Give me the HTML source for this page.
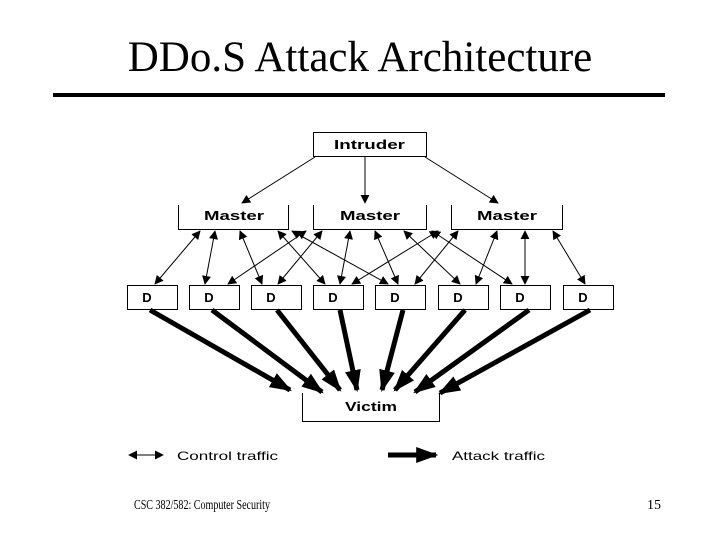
<!DOCTYPE html>
<html><head><style>
body{margin:0;background:#fff}
svg{display:block}
</style></head><body>
<svg width="720" height="540" xmlns="http://www.w3.org/2000/svg">
<defs>
<marker id="c" viewBox="0 0 10 10" refX="9" refY="5" markerWidth="9" markerHeight="9" markerUnits="userSpaceOnUse" orient="auto-start-reverse"><path d="M0,0 L10,5 L0,10 z" fill="#000"/></marker>
<marker id="a" viewBox="0 0 10 10" refX="9" refY="5" markerWidth="22" markerHeight="16" markerUnits="userSpaceOnUse" orient="auto" preserveAspectRatio="none"><path d="M0,0 L10,5 L0,10 z" fill="#000"/></marker>
</defs>
<text x="360" y="71" font-family="Liberation Serif, serif" font-size="43" text-anchor="middle">DDo.S Attack Architecture</text>
<rect x="53" y="93" width="612" height="4" fill="#000"/>
<g font-family="Liberation Sans, sans-serif" font-weight="bold" font-size="13" fill="#000">
<rect x="313.5" y="132.5" width="113" height="24" fill="none" stroke="#000"/>
<text x="334" y="149" textLength="71" lengthAdjust="spacingAndGlyphs">Intruder</text>
<path d="M178.5,205 V229.5 H288.5 V205 M313.5,205 V229.5 H426.5 V205 M451.5,205 V229.5 H562.5 V205" fill="none" stroke="#000"/>
<text x="204" y="220" textLength="60" lengthAdjust="spacingAndGlyphs">Master</text>
<text x="340" y="220" textLength="60" lengthAdjust="spacingAndGlyphs">Master</text>
<text x="477" y="220" textLength="60" lengthAdjust="spacingAndGlyphs">Master</text>
<g fill="none" stroke="#000">
<rect x="127.5" y="285.5" width="50" height="24"/><rect x="189.5" y="285.5" width="50" height="24"/>
<rect x="251.5" y="285.5" width="50" height="24"/><rect x="313.5" y="285.5" width="50" height="24"/>
<rect x="375.5" y="285.5" width="50" height="24"/><rect x="438.5" y="285.5" width="50" height="24"/>
<rect x="500.5" y="285.5" width="50" height="24"/><rect x="563.5" y="285.5" width="50" height="24"/>
</g>
<g text-anchor="middle">
<text x="147" y="302">D</text><text x="209" y="302">D</text><text x="271" y="302">D</text><text x="333" y="302">D</text>
<text x="395" y="302">D</text><text x="458" y="302">D</text><text x="520" y="302">D</text><text x="583" y="302">D</text>
</g>
<path d="M302.5,393 V421.5 H439.5 V393" fill="none" stroke="#000"/>
<text x="345" y="411" textLength="52" lengthAdjust="spacingAndGlyphs">Victim</text>
</g>
<g stroke="#000" stroke-width="1" marker-end="url(#c)">
<line x1="315" y1="157" x2="242" y2="203"/>
<line x1="365" y1="157" x2="365" y2="203"/>
<line x1="425" y1="157" x2="498" y2="203"/>
</g>
<g stroke="#000" stroke-width="1" marker-start="url(#c)" marker-end="url(#c)">
<line x1="200" y1="231" x2="155" y2="284"/>
<line x1="215" y1="231" x2="205" y2="284"/>
<line x1="240" y1="231" x2="262" y2="284"/>
<line x1="278" y1="231" x2="325" y2="284"/>
<line x1="292" y1="231" x2="388" y2="284"/>
<line x1="306" y1="231" x2="228" y2="284"/>
<line x1="322" y1="231" x2="278" y2="284"/>
<line x1="350" y1="231" x2="340" y2="284"/>
<line x1="375" y1="231" x2="398" y2="284"/>
<line x1="404" y1="231" x2="460" y2="284"/>
<line x1="432" y1="231" x2="512" y2="284"/>
<line x1="438" y1="231" x2="352" y2="284"/>
<line x1="458" y1="231" x2="415" y2="284"/>
<line x1="497" y1="231" x2="476" y2="284"/>
<line x1="525" y1="231" x2="525" y2="284"/>
<line x1="553" y1="231" x2="585" y2="284"/>
</g>
<g stroke="#000" stroke-width="5" marker-end="url(#a)">
<line x1="150" y1="310" x2="290" y2="390"/>
<line x1="212" y1="310" x2="322" y2="392"/>
<line x1="277" y1="310" x2="340" y2="390"/>
<line x1="340" y1="310" x2="357" y2="390"/>
<line x1="403" y1="310" x2="382" y2="390"/>
<line x1="465" y1="310" x2="395" y2="390"/>
<line x1="529" y1="310" x2="415" y2="392"/>
<line x1="590" y1="310" x2="440" y2="393"/>
</g>
<line x1="129" y1="455" x2="163" y2="455" stroke="#000" stroke-width="1" marker-start="url(#c)" marker-end="url(#c)"/>
<line x1="388" y1="455" x2="436" y2="455" stroke="#000" stroke-width="5" marker-end="url(#a)"/>
<g font-family="Liberation Sans, sans-serif" font-size="12" fill="#000">
<text x="177" y="460" textLength="101" lengthAdjust="spacingAndGlyphs">Control traffic</text>
<text x="452" y="460" textLength="93" lengthAdjust="spacingAndGlyphs">Attack traffic</text>
</g>
<g font-family="Liberation Serif, serif" font-size="14" fill="#000">
<text x="134" y="509" textLength="136" lengthAdjust="spacingAndGlyphs">CSC 382/582: Computer Security</text>
<text x="647" y="509">15</text>
</g>
</svg>
</body></html>
